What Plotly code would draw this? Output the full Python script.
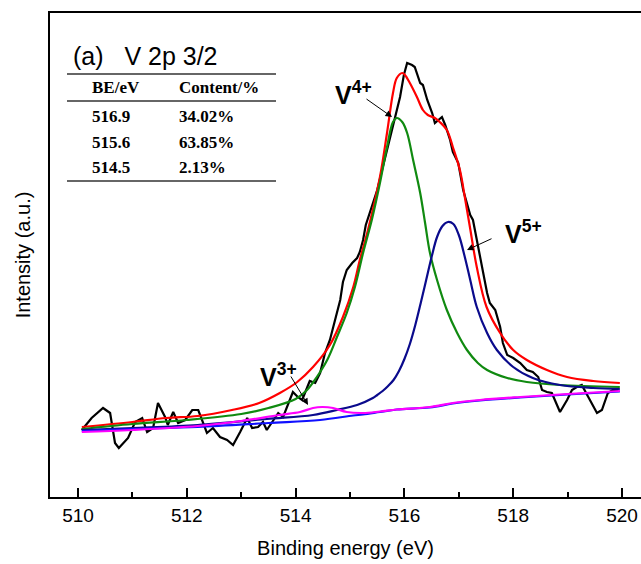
import plotly.graph_objects as go

# ---------------- data ----------------
exp_be = [510.07, 510.25, 510.46, 510.59, 510.68, 510.75, 510.92, 511.05, 511.18, 511.27,
          511.38, 511.47, 511.60, 511.65, 511.75, 511.84, 511.97, 512.10, 512.21, 512.37,
          512.48, 512.61, 512.74, 512.85, 512.98, 513.11, 513.20, 513.31, 513.40, 513.47,
          513.57, 513.68, 513.77, 513.95, 514.04, 514.12, 514.26, 514.36, 514.45, 514.54,
          514.63, 514.72, 514.82, 514.87, 514.94, 515.04, 515.13, 515.18, 515.24, 515.29,
          515.37, 515.50, 515.59, 515.68, 515.75, 515.83, 515.92, 515.99, 516.05, 516.14,
          516.19, 516.29, 516.34, 516.42, 516.51, 516.56, 516.62, 516.69, 516.75, 516.84,
          516.89, 516.99, 517.08, 517.15, 517.21, 517.26, 517.33, 517.43, 517.52, 517.57,
          517.67, 517.76, 517.81, 517.89, 518.00, 518.13, 518.25, 518.36, 518.46, 518.53,
          518.62, 518.71, 518.86, 518.99, 519.08, 519.17, 519.26, 519.38, 519.54, 519.63,
          519.74, 519.83, 519.93]
exp_int = [67, 79, 89, 84, 54, 49, 59, 75, 79, 65,
           69, 94, 80, 72, 85, 74, 77, 87, 87, 64,
           69, 60, 57, 52, 65, 79, 69, 70, 75, 67,
           75, 84, 80, 105, 100, 97, 116, 114, 124, 144,
           157, 177, 197, 215, 227, 234, 239, 245, 257, 272,
           285, 307, 327, 347, 365, 380, 400, 422, 434, 432,
           430, 414, 412, 397, 384, 374, 377, 380, 372, 357,
           345, 334, 307, 292, 282, 277, 257, 230, 204, 194,
           187, 170, 154, 142, 139, 134, 127, 125, 120, 107,
           105, 104, 85, 97, 107, 110, 112, 100, 84, 87,
           104, 107, 107]

env_be = [510.07, 511.0, 511.62, 512.2, 512.83, 513.33, 513.71, 514.03, 514.32, 514.63,
          514.87, 515.06, 515.18, 515.33, 515.55, 515.68, 515.79, 515.86, 515.96, 516.01,
          516.10, 516.23, 516.34, 516.43, 516.56, 516.65, 516.78, 516.89, 517.02, 517.11,
          517.21, 517.33, 517.51, 517.76, 518.0, 518.25, 518.62, 518.99, 519.47, 519.96]
env_int = [70, 75, 79, 81, 87, 94, 104, 115, 130, 152,
           180, 210, 237, 267, 320, 364, 404, 419, 424, 422,
           414, 400, 387, 382, 379, 375, 367, 350, 327, 300,
           268, 230, 190, 164, 147, 137, 127, 120, 116, 114]

v4_be = [510.07, 511.0, 512.0, 513.0, 513.5, 514.0, 514.21, 514.39, 514.58, 514.76,
         514.94, 515.09, 515.24, 515.40, 515.55, 515.68, 515.79, 515.86, 515.96, 516.05,
         516.16, 516.29, 516.38, 516.47, 516.60, 516.78, 516.97, 517.15, 517.35, 517.52,
         517.89, 518.25, 518.86, 519.96]
v4_int = [68, 73, 77, 83, 89, 98, 107, 120, 137, 160,
          184, 210, 244, 277, 314, 350, 375, 379, 375, 364,
          337, 304, 274, 244, 217, 187, 164, 147, 134, 127,
          119, 115, 112, 110]

v5_be = [510.07, 511.0, 512.2, 513.47, 514.32, 514.76, 515.13, 515.42, 515.5, 515.6,
         515.7, 515.8, 515.9, 516.0, 516.1, 516.2, 516.3, 516.4, 516.5, 516.6,
         516.7, 516.8, 516.9, 517.0, 517.11, 517.21, 517.33, 517.52, 517.70, 518.0,
         518.36, 518.86, 519.47, 519.96]
v5_int = [67, 69, 72, 78, 82, 87, 92, 99, 102, 106,
          111, 117, 126, 138, 153, 172, 194, 217, 240, 260,
          271, 275, 273, 262, 240, 217, 190, 164, 147, 130,
          119, 112, 109, 108]

bg_be = [510.07, 511.0, 512.2, 513.5, 514.45, 515.06, 515.24, 515.55, 515.86, 516.47,
         516.89, 517.39, 518.13, 519.0, 519.96]
bg_int = [66, 68, 70, 74, 77, 81.5, 82.5, 85, 87.5, 89.5,
          93.5, 96.5, 99.5, 102.5, 105.5]

v3_be = [510.07, 511.0, 512.2, 513.0, 513.69, 514.08, 514.32, 514.49, 514.69, 514.94,
         515.24, 515.55, 515.86, 516.47, 516.89, 517.39, 518.13, 519.0, 519.96]
v3_int = [65, 67, 71, 76, 82, 85, 89, 90, 89, 85,
          84, 85.5, 87.5, 90, 94, 97, 100, 103, 106]

table_header = ["BE/eV", "Content/%"]
table_be = ["516.9", "515.6", "514.5"]
table_content = ["34.02%", "63.85%", "2.13%"]

# ---------------- figure ----------------
W, H = 641, 564
L, R, T, B = 50, 0, 13, 67
x_range = [509.485, 520.349]
y_range = [0, 484]

def px_x(p):  # pixel -> paper x
    return (p - L) / (W - L - R)

def px_y(p):  # pixel -> paper y
    return (H - B - p) / (H - T - B)

fig = go.Figure()
lw = 2.2
fig.add_trace(go.Scatter(x=exp_be, y=exp_int, mode="lines",
                         line=dict(color="black", width=lw), name="exp"))
fig.add_trace(go.Scatter(x=env_be, y=env_int, mode="lines",
                         line=dict(color="#ff0000", width=lw, shape="spline"), name="fit"))
fig.add_trace(go.Scatter(x=v4_be, y=v4_int, mode="lines",
                         line=dict(color="#108a10", width=lw, shape="spline"), name="V4+"))
fig.add_trace(go.Scatter(x=v5_be, y=v5_int, mode="lines",
                         line=dict(color="#0a0a8c", width=lw, shape="spline"), name="V5+"))
fig.add_trace(go.Scatter(x=bg_be, y=bg_int, mode="lines",
                         line=dict(color="#1010ff", width=lw, shape="spline"), name="bg"))
fig.add_trace(go.Scatter(x=v3_be, y=v3_int, mode="lines",
                         line=dict(color="#ff00ff", width=lw, shape="spline"), name="V3+"))

ann = []
# title
ann.append(dict(xref="paper", yref="paper", x=px_x(71), y=px_y(55.5),
                xanchor="left", yanchor="middle", showarrow=False,
                text="(a)\u00a0\u00a0 V 2p 3/2",
                font=dict(family="Liberation Sans, Arial", size=25, color="black")))
# table
tfont = dict(family="Liberation Serif, Times New Roman", size=17, color="black")
col_x = [90, 177]
ann.append(dict(xref="paper", yref="paper", x=px_x(col_x[0]), y=px_y(88),
                xanchor="left", yanchor="middle", showarrow=False,
                text="<b>%s</b>" % table_header[0], font=tfont))
ann.append(dict(xref="paper", yref="paper", x=px_x(col_x[1]), y=px_y(88),
                xanchor="left", yanchor="middle", showarrow=False,
                text="<b>%s</b>" % table_header[1], font=tfont))
row_y = [116.5, 142.5, 167.5]
for be, ct, ry in zip(table_be, table_content, row_y):
    ann.append(dict(xref="paper", yref="paper", x=px_x(col_x[0]), y=px_y(ry),
                    xanchor="left", yanchor="middle", showarrow=False,
                    text="<b>%s</b>" % be, font=tfont))
    ann.append(dict(xref="paper", yref="paper", x=px_x(col_x[1]), y=px_y(ry),
                    xanchor="left", yanchor="middle", showarrow=False,
                    text="<b>%s</b>" % ct, font=tfont))

# peak labels
lfont = dict(family="Liberation Sans, Arial", size=25, color="black")
labels = [("V<sup>4+</sup>", 333, 93), ("V<sup>5+</sup>", 503, 232), ("V<sup>3+</sup>", 258, 375)]
for txt, lx, ly in labels:
    ann.append(dict(xref="paper", yref="paper", x=px_x(lx), y=px_y(ly),
                    xanchor="left", yanchor="middle", showarrow=False,
                    text="<b>%s</b>" % txt, font=lfont))

# arrows (tail -> head) in data coordinates
arrows = [((515.276, 399), (515.772, 380)),
          ((517.629, 259), (517.151, 247)),
          ((513.897, 122), (514.228, 92))]
for (tx, ty), (hx, hy) in arrows:
    ann.append(dict(x=hx, y=hy, ax=tx, ay=ty, xref="x", yref="y", axref="x", ayref="y",
                    text="", showarrow=True, arrowhead=2, arrowsize=1.3, arrowwidth=1,
                    arrowcolor="black", standoff=0, startstandoff=0))

shapes = []
for ly in [74, 101, 181]:
    shapes.append(dict(type="line", xref="paper", yref="paper",
                       x0=px_x(67), x1=px_x(276), y0=px_y(ly), y1=px_y(ly),
                       line=dict(color="#333333", width=1.4)))

fig.update_layout(
    width=W, height=H, margin=dict(l=L, r=R, t=T, b=B),
    paper_bgcolor="white", plot_bgcolor="white", showlegend=False,
    annotations=ann, shapes=shapes,
    xaxis=dict(range=x_range, showgrid=False, zeroline=False,
               showline=True, linecolor="black", linewidth=2, mirror=True,
               ticks="inside", ticklen=9, tickwidth=2, tickcolor="black",
               tick0=510, dtick=2,
               minor=dict(ticks="inside", ticklen=5, tickwidth=2, tickcolor="black", dtick=1),
               tickfont=dict(family="Liberation Sans, Arial", size=19, color="black"),
               title=dict(text="Binding energy (eV)", standoff=16,
                          font=dict(family="Liberation Sans, Arial", size=20, color="black"))),
    yaxis=dict(range=y_range, showgrid=False, zeroline=False,
               showline=True, linecolor="black", linewidth=2, mirror=False,
               ticks="", showticklabels=False,
               title=dict(text="Intensity (a.u.)", standoff=12,
                          font=dict(family="Liberation Sans, Arial", size=20, color="black"))),
)

fig.write_html("out.html")
